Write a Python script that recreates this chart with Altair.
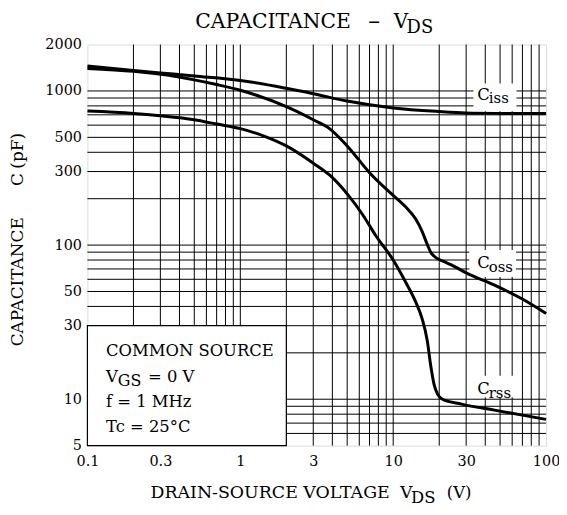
import altair as alt
import pandas as pd

# ---- data ----
vds_ciss = [0.1, 0.2, 0.3, 0.5, 1, 2, 3, 5, 10, 20, 30, 50, 100]
ciss = [1450, 1360, 1310, 1250, 1170, 1040, 960, 860, 775, 735, 720, 715, 713]

vds_coss = [0.1, 0.2, 0.38, 0.5, 0.7, 1, 2, 3, 3.83, 5, 7, 10, 12, 14, 15.5, 16.7,
            17.7, 19, 21, 24, 30, 46, 69, 100]
coss = [1400, 1340, 1240, 1180, 1100, 1010, 790, 650, 570, 440, 295, 210, 178, 148,
        122, 101, 89, 83, 79, 74.5, 66, 55, 45, 36]

vds_crss = [0.1, 0.2, 0.3, 0.5, 0.7, 1, 1.5, 2, 3, 3.83, 5, 6.3, 7.7, 10, 12, 14,
            15.5, 16.7, 17.6, 18.5, 19.5, 21, 28, 46, 100]
crss = [740, 715, 690, 650, 610, 570, 500, 440, 340, 285, 215, 158, 115, 80, 58, 43,
        33, 24, 16.5, 12.5, 10.8, 10.0, 9.3, 8.5, 7.4]

x_ticks = [0.1, 0.3, 1, 3, 10, 30, 100]
y_ticks = [5, 10, 30, 50, 100, 300, 500, 1000, 2000]
grid_x = [0.2, 0.3, 0.4, 0.5, 0.6, 0.7, 0.8, 0.9, 1, 2, 3, 4, 5, 6, 7, 8, 9,
          10, 20, 30, 40, 50, 60, 70, 80, 90]
grid_y = [6, 7, 8, 9, 10, 20, 30, 40, 50, 60, 70, 80, 90, 100, 200, 300, 400, 500,
          600, 700, 800, 900, 1000]

# curve labels (main letter, subscript) and their anchor / white box
lab_main = ["C", "C", "C"]
lab_sub = ["iss", "oss", "rss"]
lab_x = [35.5, 35.5, 35.5]
lab_y = [880, 70.8, 10.8]
box_x1 = [33.5, 31.5, 31.5]
box_x2 = [64, 63.5, 63.5]
box_y1 = [738, 62, 10.3]
box_y2 = [1117, 93, 14.2]

# condition box
cond_x = [0.1, 2]
cond_y = [5, 30]

FONT = "DejaVu Serif"

curves = pd.concat([
    pd.DataFrame({"series": "Ciss", "vds": vds_ciss, "c": ciss}),
    pd.DataFrame({"series": "Coss", "vds": vds_coss, "c": coss}),
    pd.DataFrame({"series": "Crss", "vds": vds_crss, "c": crss}),
])
labels = pd.DataFrame({"main": lab_main, "sub": lab_sub, "x": lab_x, "y": lab_y,
                       "x1": box_x1, "x2": box_x2, "y1": box_y1, "y2": box_y2})
cond = pd.DataFrame({"x1": [cond_x[0]], "x2": [cond_x[1]], "y1": [cond_y[0]], "y2": [cond_y[1]]})

xscale = alt.Scale(type="log", domain=[0.1, 100], nice=False)
yscale = alt.Scale(type="log", domain=[5, 2000], nice=False)
xaxis = alt.Axis(values=x_ticks, format="~g", grid=False, ticks=False, domain=False,
                 labelPadding=9, title=None, labelFont=FONT, labelFontSize=14.5,
                 labelColor="black", labelOverlap=False, labelFlush=False, labelBound=False)
yaxis = alt.Axis(values=y_ticks, format="~g", grid=False, ticks=False, domain=False,
                 labelPadding=6, title=None, labelFont=FONT, labelFontSize=14.5,
                 labelColor="black", labelOverlap=False, labelFlush=False, labelBound=False)


def X(f):
    return alt.X(f, type="quantitative", scale=xscale, axis=xaxis)


def Y(f):
    return alt.Y(f, type="quantitative", scale=yscale, axis=yaxis)


vgrid = alt.Chart(pd.DataFrame({"g": grid_x})).mark_rule(color="black", strokeWidth=1).encode(x=X("g"))
hgrid = alt.Chart(pd.DataFrame({"g": grid_y})).mark_rule(color="black", strokeWidth=1).encode(y=Y("g"))

cond_box = alt.Chart(cond).mark_rect(fill="white", stroke="black", strokeWidth=1.2).encode(
    x=X("x1"), x2="x2", y=Y("y1"), y2="y2")

lab_box = alt.Chart(labels).mark_rect(fill="white").encode(
    x=X("x1"), x2="x2", y=Y("y1"), y2="y2")

lines = alt.Chart(curves).mark_line(color="black", strokeWidth=3, interpolate="monotone").encode(
    x=X("vds"), y=Y("c"), detail="series:N")

lab_main_t = alt.Chart(labels).mark_text(font=FONT, fontSize=16.5, align="left",
                                         baseline="alphabetic", color="black").encode(
    x=X("x"), y=Y("y"), text="main:N")
lab_sub_t = alt.Chart(labels).mark_text(font=FONT, fontSize=15, align="left",
                                        baseline="alphabetic", color="black", dx=11.5, dy=3.5).encode(
    x=X("x"), y=Y("y"), text="sub:N")


def txt(s, x, y, size=16, angle=0, align="left"):
    return alt.Chart(pd.DataFrame({"t": [s]})).mark_text(
        font=FONT, fontSize=size, align=align, baseline="alphabetic", color="black",
        angle=angle).encode(x=alt.value(x), y=alt.value(y), text="t:N")


annot = [
    # title
    txt("CAPACITANCE", 108.5, -17, 20.5),
    txt("\u2212", 288.5, -18, 16, align="center"),
    txt("V", 308.5, -17, 20),
    txt("DS", 321.5, -12, 18),
    # x title
    txt("DRAIN-SOURCE VOLTAGE", 63.5, 457, 17.5),
    txt("V", 315, 457, 17),
    txt("DS", 326, 461.5, 16.5),
    txt("(V)", 362, 457, 16.5),
    # y title (rotated)
    txt("CAPACITANCE", -65, 304, 17, angle=270),
    txt("C", -65, 136, 17, angle=270, align="center"),
    txt("(pF)", -65, 125, 17, angle=270),
    # condition box
    txt("COMMON SOURCE", 18.7, 313.7, 16.5),
    txt("V", 18.7, 339.7, 16.5),
    txt("GS", 30.5, 344, 16),
    txt("= 0 V", 61, 339.7, 16.5),
    txt("f = 1 MHz", 18.7, 365.3, 16.5),
    txt("Tc = 25\u00b0C", 18.7, 390.3, 16.5),
]

chart = alt.layer(vgrid, hgrid, cond_box, lab_box, lines, lab_main_t, lab_sub_t, *annot).properties(
    width=462, height=404,
    padding={"left": 80, "top": 35, "right": 13, "bottom": 60},
    autosize=alt.AutoSizeParams(type="none"),
).configure_view(stroke="black", strokeWidth=2.2).configure(background="white")

chart.save("out.html", embed_options={"renderer": "svg", "actions": False})
